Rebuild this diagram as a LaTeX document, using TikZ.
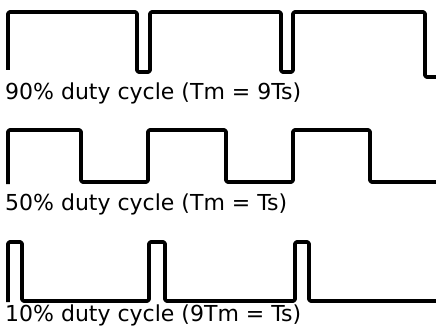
\documentclass[tikz,border=0pt]{standalone}
\usepackage{fontspec}
\setmainfont{DejaVu Sans}
\usepackage{tikz}

\begin{document}
\begin{tikzpicture}[x=1pt, y=-1pt,
    wave/.style={line width=3.6pt, line join=round, rounded corners=1.5pt},
    caption/.style={anchor=base west, inner sep=0pt, font=\fontsize{22}{26}\selectfont}]
    \useasboundingbox (0, 0) rectangle (436, 334);

    \draw[wave] (8, 70) -- (8, 12) -- (137, 12) -- (137, 72) -- (150, 72) -- (150, 12)
        -- (281, 12) -- (281, 72) -- (293, 72) -- (293, 12) -- (425, 12) -- (425, 77) -- (437, 77);
    \node[caption] at (5, 100) (c90) {90\% duty cycle (Tm = 9Ts)};

    \draw[wave] (8, 184) -- (8, 130) -- (81, 130) -- (81, 182) -- (148, 182) -- (148, 130)
        -- (226, 130) -- (226, 182) -- (293, 182) -- (293, 130) -- (370, 130) -- (370, 182) -- (437, 182);
    \node[caption] at (5, 210) (c50) {50\% duty cycle (Tm = Ts)};

    \draw[wave] (8, 302) -- (8, 242) -- (22, 242) -- (22, 301) -- (149, 301) -- (149, 242)
        -- (165, 242) -- (165, 301) -- (295, 301) -- (295, 242) -- (309, 242) -- (309, 301) -- (437, 301);
    \node[caption] at (5, 321) (c10) {10\% duty cycle (9Tm = Ts)};
\end{tikzpicture}
\end{document}
